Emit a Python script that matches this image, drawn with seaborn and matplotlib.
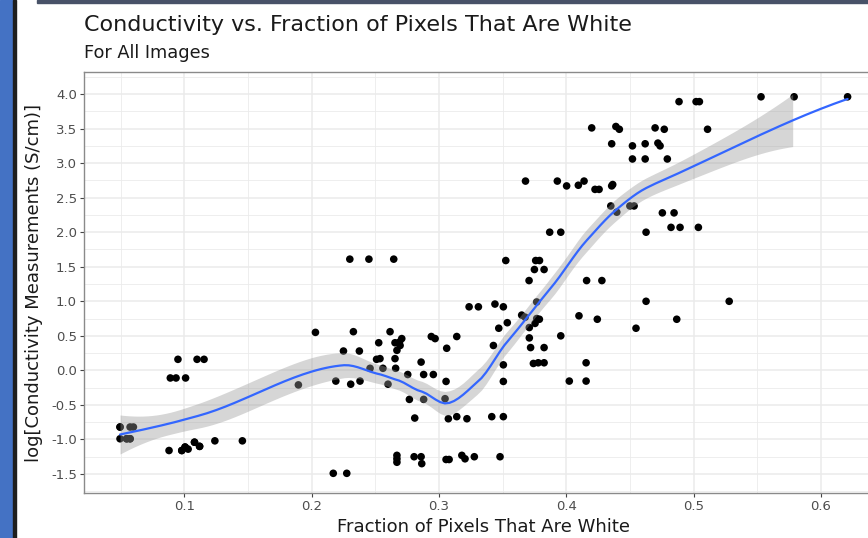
import numpy as np
import pandas as pd
import matplotlib
matplotlib.use("Agg")
import matplotlib.pyplot as plt
from matplotlib.patches import Rectangle
from matplotlib.ticker import MultipleLocator, FormatStrFormatter
import seaborn as sns

# ---- data (overlapping dots repeated) ----
frac_white = [
    0.0495, 0.0574, 0.0600, 0.0495, 0.0547, 0.0574,
    0.0495, 0.0574, 0.0547,
    0.0880, 0.0980, 0.1006, 0.1030, 0.1080, 0.1120, 0.1240, 0.1456,
    0.0980, 0.1006, 0.1080, 0.1120,
    0.0950, 0.1100, 0.1155, 0.0890, 0.0935, 0.1010,
    0.1896, 0.2030, 0.2190, 0.2170, 0.2276,
    0.2300, 0.2450, 0.2645, 0.2328, 0.2250, 0.2375, 0.2380, 0.2307,
    0.2459, 0.2510, 0.2537, 0.2527, 0.2560, 0.2600,
    0.2616, 0.2655, 0.2655, 0.2660, 0.2670, 0.2695, 0.2708, 0.2690,
    0.2755, 0.2768, 0.2810, 0.2860, 0.2880, 0.2956, 0.2880, 0.2940, 0.2970,
    0.2670, 0.2670, 0.2670, 0.2805, 0.2860, 0.2865,
    0.3056, 0.3080, 0.3180, 0.3205, 0.3278, 0.3480,
    0.3056, 0.3048, 0.3061, 0.3140,
    0.3074, 0.3140, 0.3220, 0.3415, 0.3506,
    0.3237, 0.3310, 0.3440, 0.3506,
    0.3525, 0.3537, 0.3470, 0.3428, 0.3506, 0.3506,
    0.3680, 0.3930, 0.4003, 0.4095, 0.4140, 0.4226, 0.4258, 0.4357, 0.4365,
    0.4350, 0.4397, 0.3870, 0.3957,
    0.3760, 0.3790, 0.3750, 0.3826, 0.3708, 0.4160, 0.4280,
    0.3768, 0.3650, 0.3677, 0.3768, 0.3789, 0.3755, 0.3710,
    0.4100, 0.4244, 0.3957, 0.3710, 0.3720, 0.3826,
    0.3742, 0.3780, 0.3826, 0.4156, 0.4024, 0.4156,
    0.4886, 0.5020, 0.5046, 0.5530, 0.5790, 0.6210,
    0.4200, 0.4390, 0.4417, 0.4698, 0.4770, 0.5110,
    0.4357, 0.4520, 0.4620, 0.4720, 0.4737,
    0.4520, 0.4620, 0.4794,
    0.4500, 0.4533, 0.4755, 0.4847,
    0.4823, 0.4894, 0.5038, 0.4627,
    0.4627, 0.5280, 0.4548, 0.4868,
]
log_cond = [
    -0.82, -0.82, -0.82, -0.99, -0.99, -0.99,
    -0.82, -0.99, -0.99,
    -1.16, -1.16, -1.11, -1.14, -1.04, -1.10, -1.02, -1.02,
    -1.16, -1.11, -1.04, -1.10,
    0.16, 0.16, 0.16, -0.11, -0.11, -0.11,
    -0.21, 0.55, -0.155, -1.49, -1.49,
    1.61, 1.61, 1.61, 0.56, 0.28, 0.28, -0.155, -0.20,
    0.03, 0.16, 0.17, 0.40, 0.03, -0.20,
    0.56, 0.40, 0.17, 0.03, 0.29, 0.36, 0.46, 0.41,
    -0.06, -0.42, -0.69, 0.12, -0.06, -0.06, -0.42, 0.49, 0.46,
    -1.23, -1.28, -1.33, -1.25, -1.25, -1.35,
    -1.29, -1.29, -1.23, -1.28, -1.25, -1.25,
    -0.16, -0.41, 0.32, 0.49,
    -0.70, -0.67, -0.70, -0.67, -0.67,
    0.92, 0.92, 0.96, 0.92,
    1.59, 0.69, 0.61, 0.36, 0.08, -0.16,
    2.74, 2.74, 2.67, 2.68, 2.74, 2.62, 2.62, 2.67, 2.69,
    2.38, 2.29, 2.00, 2.00,
    1.59, 1.59, 1.46, 1.46, 1.30, 1.30, 1.30,
    0.99, 0.80, 0.77, 0.75, 0.74, 0.68, 0.62,
    0.79, 0.74, 0.50, 0.47, 0.33, 0.33,
    0.10, 0.11, 0.11, 0.11, -0.155, -0.155,
    3.89, 3.89, 3.89, 3.96, 3.96, 3.96,
    3.51, 3.53, 3.49, 3.51, 3.49, 3.49,
    3.28, 3.25, 3.28, 3.29, 3.25,
    3.06, 3.06, 3.06,
    2.38, 2.38, 2.28, 2.28,
    2.07, 2.07, 2.07, 2.00,
    1.00, 1.00, 0.61, 0.74,
]
x_ticks = [0.1, 0.2, 0.3, 0.4, 0.5, 0.6]
y_ticks = [-1.5, -1.0, -0.5, 0.0, 0.5, 1.0, 1.5, 2.0, 2.5, 3.0, 3.5, 4.0]
title = "Conductivity vs. Fraction of Pixels That Are White"
subtitle = "For All Images"
x_label = "Fraction of Pixels That Are White"
y_label = "log[Conductivity Measurements (S/cm)]"
y_upper_limit = 4.0
loess_span = 0.48
band_z = 1.0

df = pd.DataFrame({"frac": frac_white, "logc": log_cond})


# ---- loess (local quadratic, tricube weights) with kd-vertex interpolation ----
def loess_rows(x, x0, span, degree=2):
    n = len(x)
    q = int(np.floor(n * span))
    d = np.abs(x - x0)
    h = np.sort(d)[q - 1]
    w = np.clip(1 - (d / h) ** 3, 0, None) ** 3
    X = np.vander(x - x0, degree + 1, increasing=True)
    XtW = X.T * w
    C = np.linalg.solve(XtW @ X, XtW)
    return C[0], C[1]  # smoother rows for value and slope at x0


def kd_vertices(x, span, cell=0.2):
    fc = int(np.floor(len(x) * span * cell))
    verts = {x.min(), x.max()}

    def split(pts):
        if len(pts) <= fc:
            return
        m = float(np.median(pts))
        left, right = pts[pts <= m], pts[pts > m]
        if len(left) == 0 or len(right) == 0:
            return
        verts.add(m)
        split(left)
        split(right)

    split(np.sort(x))
    return np.array(sorted(verts))


xv = df["frac"].to_numpy()
yv = df["logc"].to_numpy()
n = len(xv)
verts = kd_vertices(xv, loess_span)
V0, V1 = zip(*[loess_rows(xv, v, loess_span) for v in verts])
V0, V1 = np.array(V0), np.array(V1)


def interp_rows(xq):
    out = []
    for xx in xq:
        i = int(np.clip(np.searchsorted(verts, xx) - 1, 0, len(verts) - 2))
        hgt = verts[i + 1] - verts[i]
        t = (xx - verts[i]) / hgt
        h00 = 2 * t**3 - 3 * t**2 + 1
        h10 = t**3 - 2 * t**2 + t
        h01 = -2 * t**3 + 3 * t**2
        h11 = t**3 - t**2
        out.append(h00 * V0[i] + h10 * hgt * V1[i] + h01 * V0[i + 1] + h11 * hgt * V1[i + 1])
    return np.array(out)


L = interp_rows(xv)
IL = np.eye(n) - L
one_delta = np.trace(IL.T @ IL)
sigma = np.sqrt(np.sum((IL @ yv) ** 2) / one_delta)

xs = np.linspace(xv.min(), xv.max(), 160)
rows = interp_rows(xs)
fit = rows @ yv
se = sigma * np.sqrt(np.sum(rows ** 2, axis=1))
lo = fit - band_z * se
hi = fit + band_z * se
ok = hi <= y_upper_limit
smooth = pd.DataFrame({"frac": xs, "fit": fit})

# ---- figure ----
sns.set_theme(style="whitegrid")
plt.rcParams["font.family"] = ["DejaVu Sans"]
fig = plt.figure(figsize=(8.68, 5.38), dpi=100)
fig.patch.set_facecolor("white")
ax = fig.add_axes([84 / 868, 45 / 538, 800 / 868, 421 / 538])
ax.set_facecolor("white")

sns.scatterplot(data=df, x="frac", y="logc", color="black", s=30,
                edgecolor="none", ax=ax, zorder=3)
ax.fill_between(xs[ok], lo[ok], hi[ok], color="#999999", alpha=0.4,
                linewidth=0, zorder=4)
sns.lineplot(data=smooth, x="frac", y="fit", color="#3366FF", linewidth=1.6,
             ax=ax, zorder=5)

ax.set_xlim(0.0212, 0.6496)
ax.set_ylim(-1.775, 4.319)
ax.set_xticks(x_ticks)
ax.set_yticks(y_ticks)
ax.xaxis.set_major_formatter(FormatStrFormatter("%.1f"))
ax.yaxis.set_major_formatter(FormatStrFormatter("%.1f"))
ax.xaxis.set_minor_locator(MultipleLocator(0.05))
ax.yaxis.set_minor_locator(MultipleLocator(0.25))
ax.grid(which="major", color="#ebebeb", linewidth=1.1)
ax.grid(which="minor", color="#ebebeb", linewidth=0.6)
ax.set_axisbelow(True)
for sp in ax.spines.values():
    sp.set_color("#8a8a8a")
    sp.set_linewidth(1.0)
ax.tick_params(axis="both", which="major", length=3, width=0.8, color="#444444",
               labelsize=9.5, labelcolor="#4d4d4d", pad=2, direction="out",
               bottom=True, left=True)
ax.tick_params(axis="both", which="minor", length=0)

ax.set_xlabel(x_label, fontsize=13, color="#1a1a1a", labelpad=4)
ax.set_ylabel(y_label, fontsize=13, color="#1a1a1a", labelpad=6)

fig.text(84 / 868, 1 - 31 / 538, title, fontsize=16, color="#1a1a1a",
         ha="left", va="baseline")
fig.text(84 / 868, 1 - 58 / 538, subtitle, fontsize=12.8, color="#1a1a1a",
         ha="left", va="baseline")

# window frame fragments visible in the screenshot
fig.patches.append(Rectangle((0, 0), 13 / 868, 1, transform=fig.transFigure,
                             color="#4472c4", zorder=10))
fig.patches.append(Rectangle((13 / 868, 0), 3 / 868, 1, transform=fig.transFigure,
                             color="#1e1e1e", zorder=10))
fig.patches.append(Rectangle((37 / 868, 1 - 3 / 538), 1, 3 / 538,
                             transform=fig.transFigure, color="#485268", zorder=10))

fig.savefig("out.png", dpi=100)
